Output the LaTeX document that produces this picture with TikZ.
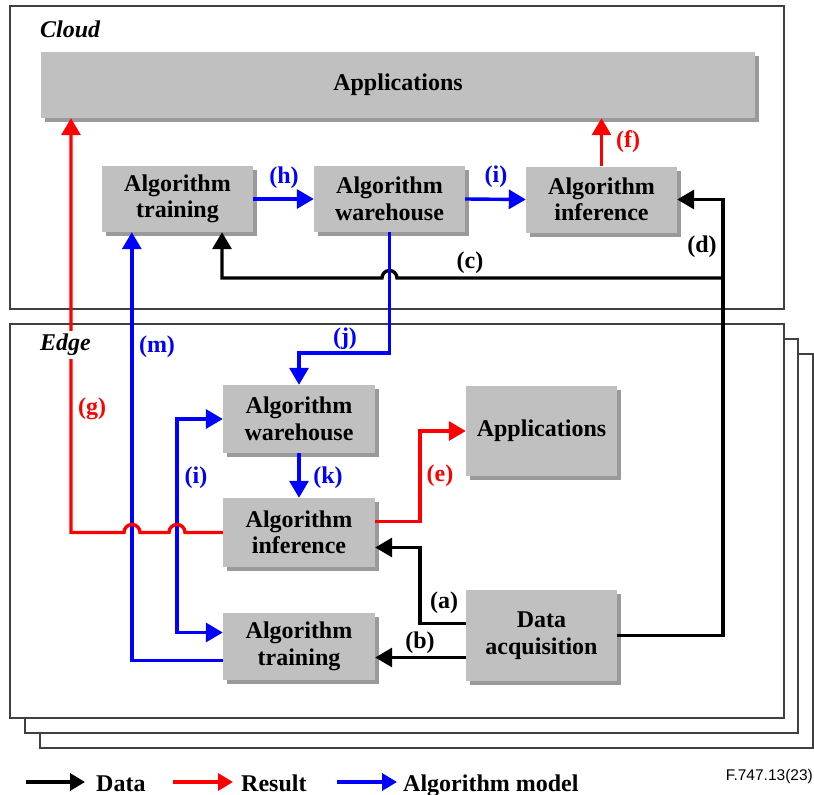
\documentclass[tikz,border=0pt]{standalone}
\usepackage{fontspec}
\setmainfont{Liberation Serif}
\newfontfamily\arialfont{Liberation Sans}
\usetikzlibrary{arrows.meta,shadows}
\definecolor{boxgray}{HTML}{C0C0C0}
\definecolor{shadowgray}{HTML}{9A9A9A}
\definecolor{framegray}{HTML}{404040}
\definecolor{myred}{HTML}{FF0000}
\definecolor{myblue}{HTML}{0000FF}
\begin{document}
\begin{tikzpicture}[x=1pt,y=-1pt,
  >={Triangle[length=17pt,width=19pt]},
  box/.style={fill=boxgray, minimum width=151pt, minimum height=66pt, inner sep=0pt, align=center,
    font=\fontsize{24}{26.5}\selectfont\bfseries,
    drop shadow={shadow xshift=4pt,shadow yshift=-4pt,fill=shadowgray,opacity=1}},
  frame/.style={draw=framegray, line width=1.6pt, fill=white},
  conn/.style={line width=3.4pt, ->},
  lbl/.style={font=\fontsize{24}{26}\selectfont\bfseries, inner sep=0pt},
  legtxt/.style={font=\fontsize{24}{26}\selectfont\bfseries, inner sep=0pt, anchor=base west},
  legarrow/.style={line width=3.4pt, -{Triangle[length=15pt,width=17pt]}},
]
\useasboundingbox (0,0) rectangle (814,795);

% frames
\draw[frame] (10,6) rectangle (784,309);
\draw[frame] (40,354) rectangle (813,748);
\draw[frame] (25,339) rectangle (798,733);
\draw[frame] (10,324) rectangle (784,718);

\node[font=\fontsize{24}{26}\selectfont\bfseries\itshape, anchor=west, inner sep=0pt] (cloudlbl) at (40,29) {Cloud};

% cloud boxes
\node[box, minimum width=714pt] (capps) at (398,85) {Applications};
\node[box] (ctrain) at (177.5,199) {Algorithm\\training};
\node[box] (cware) at (389.5,199) {Algorithm\\warehouse};
\node[box] (cinf) at (601.5,199.5) {Algorithm\\inference};

% edge boxes
\node[box, minimum width=152pt, minimum height=68pt] (ewh) at (299,419) {Algorithm\\warehouse};
\node[box, minimum width=152pt, minimum height=69pt] (einf) at (299,532.5) {Algorithm\\inference};
\node[box, minimum width=152pt, minimum height=67pt] (etr) at (299,646.5) {Algorithm\\training};
\node[box, minimum height=90pt] (eapps) at (541.5,431) {Applications};
\node[box, minimum height=91pt] (eda) at (541.5,635.5) {Data\\acquisition};

% helper coordinates
\coordinate (dx) at (723,400);
\coordinate (cstart) at (723,278);
\coordinate (c1) at (397,278);
\coordinate (c2) at (222,278);
\coordinate (j1) at (340,353);
\coordinate (ex) at (420,470);
\coordinate (ax) at (420,590);
\coordinate (ic) at (177,525);
\coordinate (g1) at (185,532.5);
\coordinate (g2) at (140,532.5);
\coordinate (g3) at (71,532.5);

% cloud connectors
\draw[conn, myblue] (ctrain.east) -- (cware.west);
\draw[conn, myblue] (cware.east) -- (cinf.west);
\draw[conn, myred] (cinf.north) -- (cinf.north |- capps.south);
\draw[conn] (eda.east) -| (dx) |- (cinf.east);
\draw[conn] (cstart) -- (c1) arc (0:-180:7.5) -- (c2) -- (ctrain.south -| c2);
\draw[conn, myblue] (cware.south) |- (j1) -| (ewh.north);

% edge connectors
\draw[conn, myblue] (ewh.south) -- (einf.north);
\draw[conn, myblue] ([yshift=-14pt]etr.west) -| ([xshift=30pt]ctrain.south west);
\draw[myblue, line width=3.4pt, <->] (ewh.west) -| (ic) |- ([yshift=14pt]etr.west);
\draw[conn, myred] (einf.west) -- (g1) arc (0:-180:8) -- (g2) arc (0:-180:8) -- (g3) -- (capps.south -| g3);
\draw[conn, myred] ([yshift=11pt]einf.east) -| (ex) |- (eapps.west);
\draw[conn] ([yshift=12pt]eda.west) -| (ax) |- ([yshift=-15pt]einf.east);
\draw[conn] ([yshift=-22pt]eda.west) -- ([yshift=-11pt]etr.east);

\node[font=\fontsize{24}{26}\selectfont\bfseries\itshape, anchor=west, fill=white, inner sep=3pt] (edgelbl) at (37,345) {Edge};

% labels
\node[lbl, myblue] (lh) at (284,178) {(h)};
\node[lbl, myblue] (li) at (496,177) {(i)};
\node[lbl, myred] (lf) at (628,142) {(f)};
\node[lbl] (ld) at (702,247) {(d)};
\node[lbl] (lc) at (470,263) {(c)};
\node[lbl, myblue] (lj) at (345,339) {(j)};
\node[lbl, myblue] (lm) at (157,347) {(m)};
\node[lbl, myred] (lg) at (92,409) {(g)};
\node[lbl, myblue] (li2) at (196,478) {(i)};
\node[lbl, myblue] (lk) at (328,478) {(k)};
\node[lbl, myred] (le) at (440,476) {(e)};
\node[lbl] (la) at (444,603) {(a)};
\node[lbl] (lb) at (420,643) {(b)};

% legend
\coordinate (lk1) at (26,782); \coordinate (lk2) at (85,782);
\coordinate (lr1) at (173,782); \coordinate (lr2) at (233,782);
\coordinate (lb1) at (337,782); \coordinate (lb2) at (397,782);
\draw[legarrow] (lk1) -- (lk2);
\draw[legarrow, myred] (lr1) -- (lr2);
\draw[legarrow, myblue] (lb1) -- (lb2);
\node[legtxt] (tdata) at (96,791) {Data};
\node[legtxt] (tresult) at (241,791) {Result};
\node[legtxt] (tmodel) at (403,791) {Algorithm model};
\node[font=\arialfont\fontsize{15.5}{17}\selectfont, anchor=base east, inner sep=0pt] (fig) at (813,780) {F.747.13(23)};
\end{tikzpicture}
\end{document}
